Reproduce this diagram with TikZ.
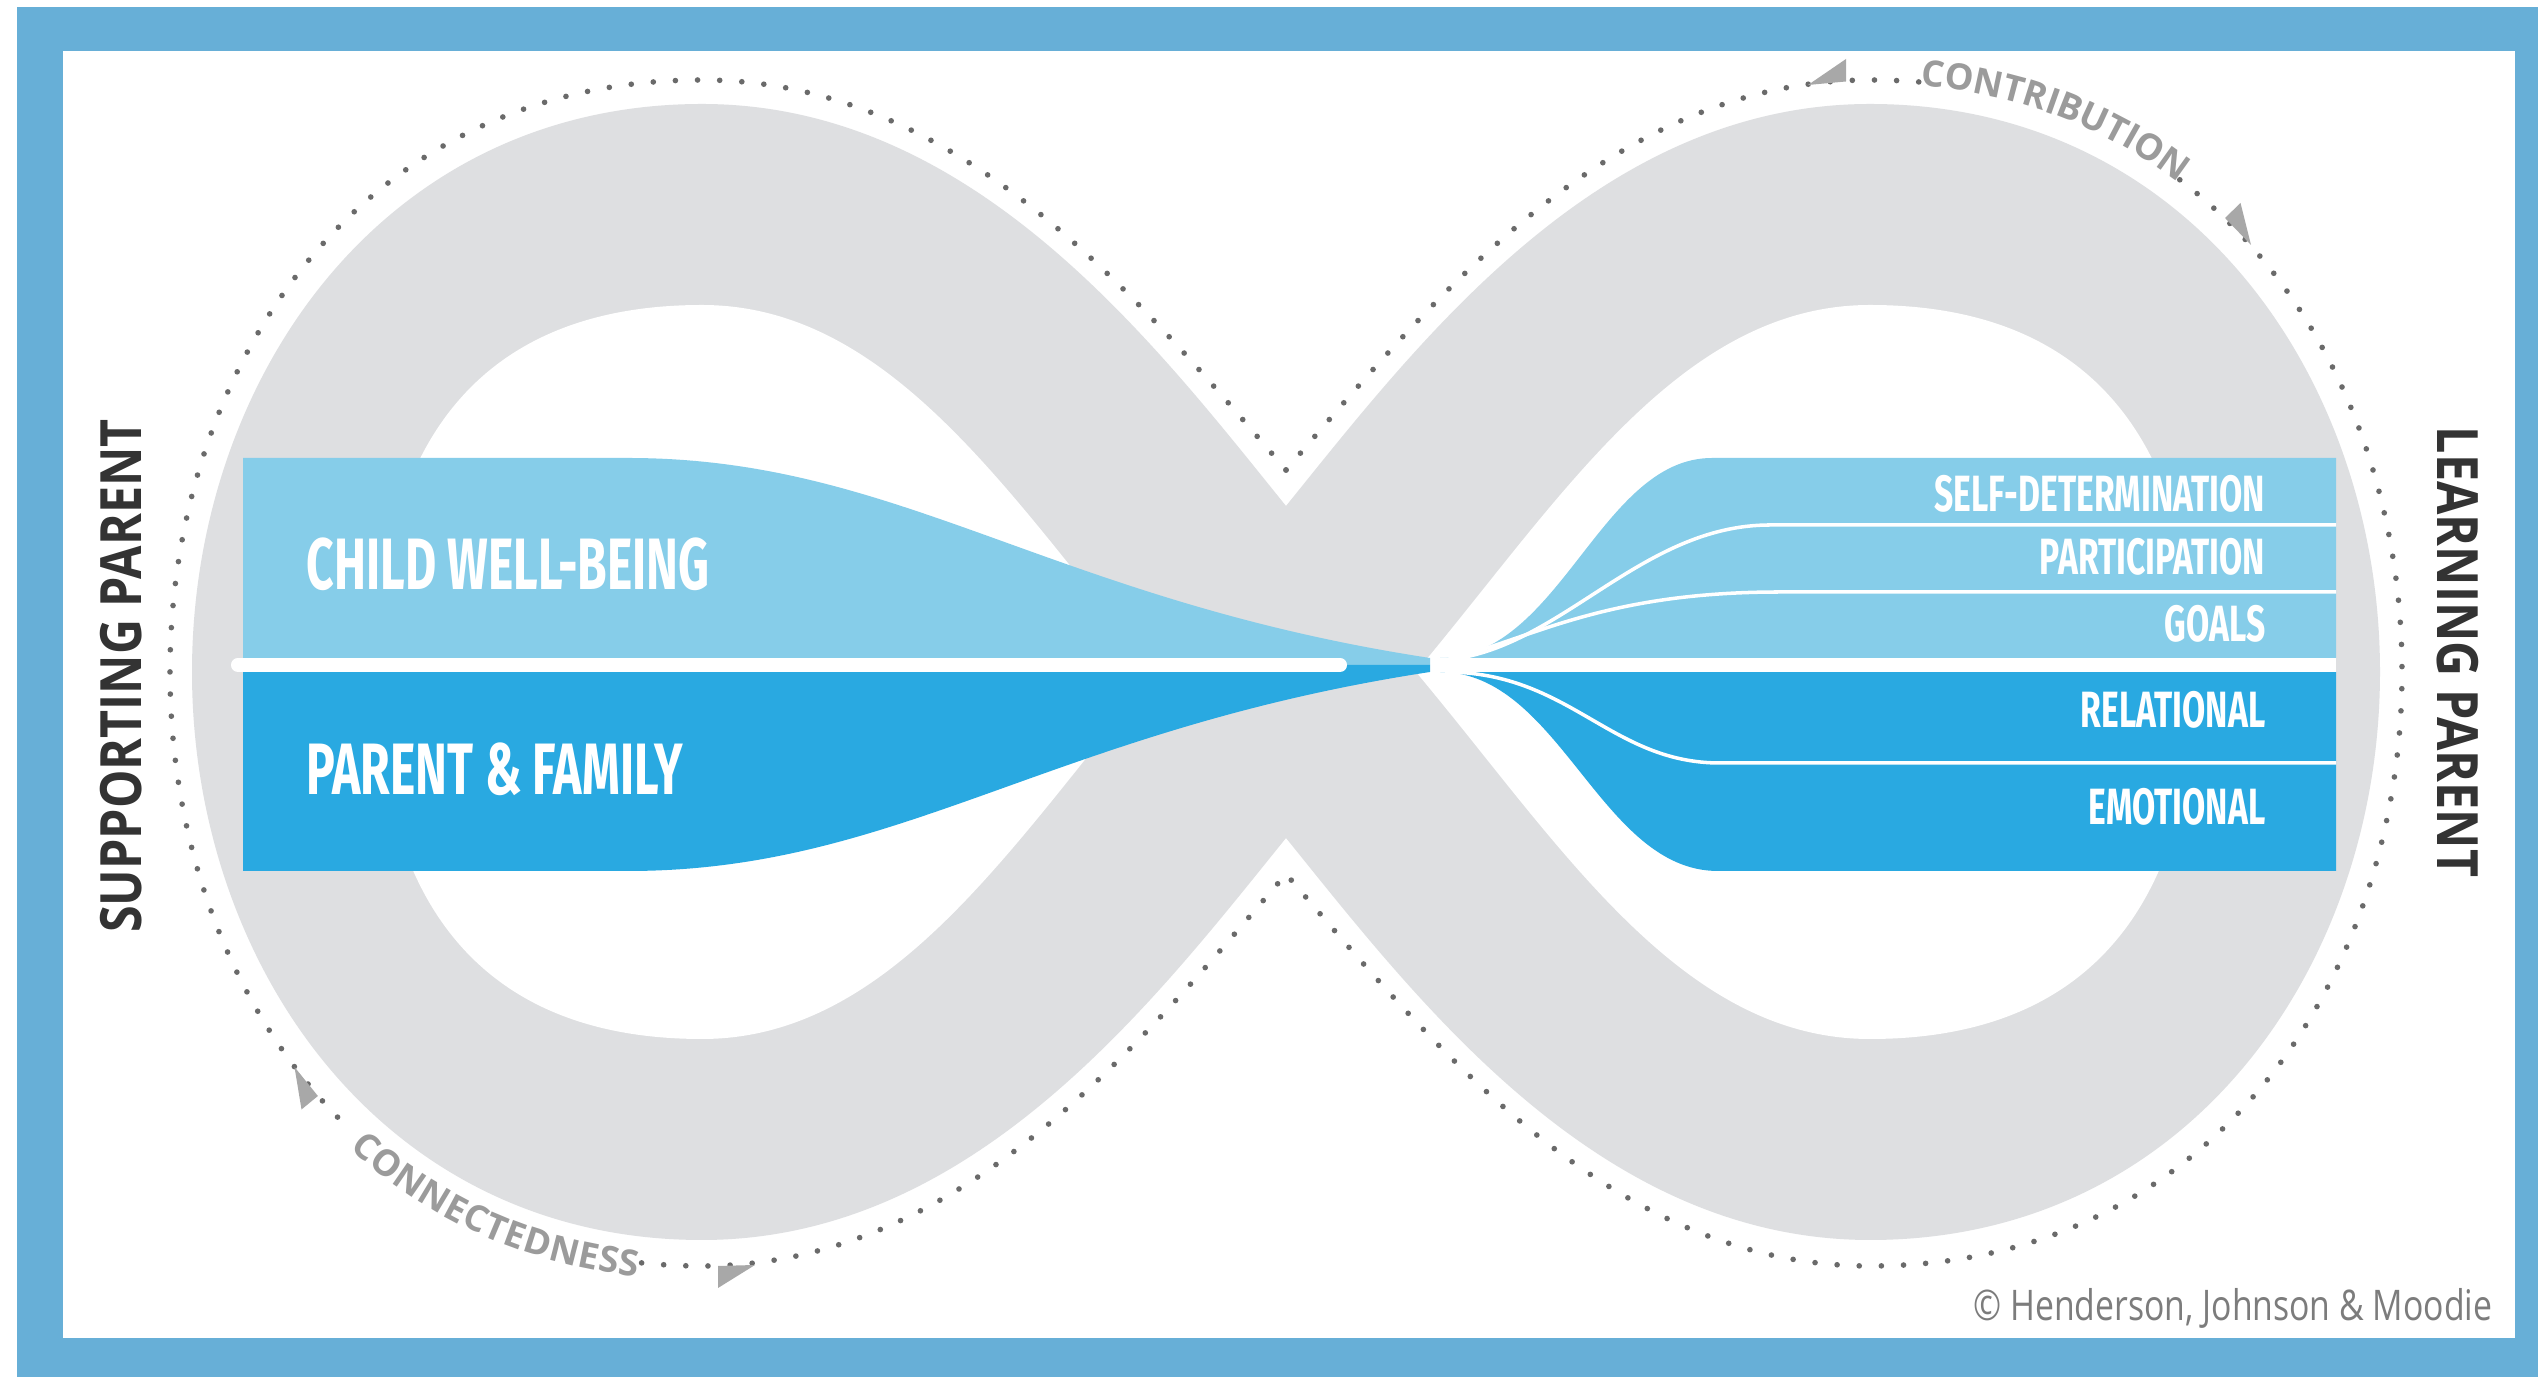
\documentclass[tikz,border=0pt]{standalone}
\usepackage{fontspec}
\usepackage{xcolor}
\usetikzlibrary{decorations.text}
\newfontfamily\labelfont[FakeStretch=0.66]{Fira Sans}
\newfontfamily\headfont{Open Sans}
\newfontfamily\sidefont[FakeStretch=0.85]{Open Sans}
\newfontfamily\creditfont[FakeStretch=0.8]{Open Sans}

\definecolor{framebg}{HTML}{67AFD7}
\definecolor{bandgray}{HTML}{DEDFE1}
\definecolor{lightbar}{HTML}{86CDE9}
\definecolor{darkbar}{HTML}{29A9E1}
\definecolor{dotgray}{HTML}{6A6A6A}
\definecolor{tipgray}{HTML}{A8A8A8}
\definecolor{arcgray}{HTML}{9B9B9B}
\definecolor{sidegray}{HTML}{333333}
\definecolor{creditgray}{HTML}{7C7C7C}

\tikzset{
  dotline/.style={dotgray, line width=1.6pt, line cap=round, dash pattern=on 0pt off 6.3pt},
  divider/.style={white, line width=4pt},
  subline/.style={white, line width=1pt},
  tipfill/.style={fill=tipgray},
  biglabel/.style={white, inner sep=0pt, font=\labelfont\bfseries\fontsize{20.7}{24}\selectfont},
  smalllabel/.style={white, inner sep=0pt, font=\labelfont\bfseries\fontsize{14.5}{17}\selectfont},
  sidelabel/.style={sidegray, inner sep=0pt, font=\sidefont\bfseries\fontsize{16.2}{18}\selectfont},
  creditlabel/.style={creditgray, inner sep=0pt, font=\creditfont\fontsize{12}{14}\selectfont}
}

\begin{document}
\begin{tikzpicture}[x=0.01cm, y=-0.01cm]
  \useasboundingbox (0,0) rectangle (2538,1377);

  % Frame
  \fill[white] (0,0) rectangle (2538,1377);
  \fill[framebg] (17,7) rectangle (2538,1377);
  \fill[white] (63,51) rectangle (2515,1338);

  % Crossing points
  \coordinate (N1) at (1286,506);
  \coordinate (N2) at (1286,838);
  \coordinate (V1) at (1286,470);
  \coordinate (V2) at (1286,874);

  % Infinity band
  \fill[bandgray] (N1) .. controls (1152,340) and (972,104) .. (702,104)
    .. controls (382,104) and (192,380) .. (192,672)
    .. controls (192,964) and (382,1240) .. (702,1240)
    .. controls (972,1240) and (1152,1004) .. (N2)
    .. controls (1420,1004) and (1600,1240) .. (1870,1240)
    .. controls (2190,1240) and (2380,964) .. (2380,672)
    .. controls (2380,380) and (2190,104) .. (1870,104)
    .. controls (1600,104) and (1420,340) .. (N1) -- cycle;
  \fill[white] (1156,672) .. controls (1012,500) and (892,305) .. (702,305)
    .. controls (452,305) and (377,480) .. (377,672)
    .. controls (377,864) and (452,1039) .. (702,1039)
    .. controls (892,1039) and (1012,844) .. (1156,672) -- cycle;
  \fill[white] (1416,672) .. controls (1560,500) and (1680,305) .. (1870,305)
    .. controls (2120,305) and (2195,480) .. (2195,672)
    .. controls (2195,864) and (2120,1039) .. (1870,1039)
    .. controls (1680,1039) and (1560,844) .. (1416,672) -- cycle;

  % Dotted outline
  \draw[dotline] (V1) .. controls (1140,300) and (962,80) .. (702,80)
    .. controls (357,80) and (170,370) .. (170,672)
    .. controls (170,844.1) and (230.8,1013.1) .. (346.9,1126.5);
  \draw[dotline] (641.6,1262.9) .. controls (661.2,1264.9) and (681.3,1266) .. (702,1266)
    .. controls (962,1266) and (1140,1044) .. (V2);
  \draw[dotline] (V1) .. controls (1432,300) and (1610,80) .. (1870,80)
    .. controls (1887.25,80) and (1904,80.7) .. (1920.5,82.1);
  \draw[dotline] (2179.8,179.8) .. controls (2325.4,290.3) and (2402,478.7) .. (2402,672)
    .. controls (2402,974) and (2215,1266) .. (1870,1266)
    .. controls (1610,1266) and (1432,1044) .. (V2);

  % Arrow tips
  \fill[tipfill] (1808,85) -- (1846,81.5) -- (1846,59) -- cycle;
  \fill[tipfill] (2251,245) -- (2225,218) -- (2240.5,203) -- cycle;
  \fill[tipfill] (294.5,1067) -- (317.9,1096) -- (301.5,1109.5) -- cycle;
  \fill[tipfill] (755,1265) -- (718,1266) -- (718,1288) -- cycle;

  % Arc labels
  \path[decorate, decoration={text along path, text color=arcgray,
      text={|\headfont\bfseries\fontsize{10.3}{12}\selectfont|CONTRIBUTION},
      text align={left indent=14.5pt}, raise=-1pt}]
    (1870,80) .. controls (2215,80) and (2402,370) .. (2402,672)
    .. controls (2402,974) and (2215,1266) .. (1870,1266);
  \path[decorate, decoration={text along path, text color=arcgray,
      text={|\headfont\bfseries\fontsize{10.3}{12}\selectfont|CONNECTEDNESS},
      text align={left indent=147pt}, raise=-4pt}]
    (170,672) .. controls (170,974) and (357,1266) .. (702,1266)
    .. controls (962,1266) and (1140,1044) .. (V2);

  % Left bars
  \fill[lightbar] (243,458) -- (628,458) .. controls (900,458) and (1050,600) .. (1430,658)
    -- (1430,665) -- (243,665) -- cycle;
  \fill[darkbar] (243,871) -- (628,871) .. controls (900,871) and (1050,730) .. (1430,672)
    -- (1430,665) -- (243,665) -- cycle;
  \draw[divider, line cap=round] (238,665) -- (1340,665);

  % Right bars
  \fill[lightbar] (1440,658) .. controls (1560,658) and (1600,458) .. (1712,458)
    -- (2336,458) -- (2336,658) -- cycle;
  \fill[darkbar] (1440,672) .. controls (1560,672) and (1600,871) .. (1718,871)
    -- (2336,871) -- (2336,672) -- cycle;
  \draw[divider] (1440,665) -- (2336,665);
  \draw[subline] (1445,660) .. controls (1560,650) and (1640,525) .. (1770,525) -- (2336,525);
  \draw[subline] (1445,660) .. controls (1530,640) and (1600,592) .. (1780,592) -- (2336,592);
  \draw[subline] (1445,672) .. controls (1570,672) and (1610,763) .. (1720,763) -- (2336,763);

  % Bar labels
  \node[biglabel, anchor=base west] (child) at (306,590) {CHILD WELL-BEING};
  \node[biglabel, anchor=base west] (family) at (306,795) {PARENT \& FAMILY};
  \node[smalllabel, anchor=base east] (selfdet) at (2266,512) {SELF-DETERMINATION};
  \node[smalllabel, anchor=base east] (partic) at (2266,575) {PARTICIPATION};
  \node[smalllabel, anchor=base east] (goals) at (2266,642) {GOALS};
  \node[smalllabel, anchor=base east] (relat) at (2266,728) {RELATIONAL};
  \node[smalllabel, anchor=base east] (emot) at (2266,825) {EMOTIONAL};

  % Side labels
  \node[sidelabel, rotate=90] (supporting) at (121,676) {SUPPORTING PARENT};
  \node[sidelabel, rotate=-90] (learning) at (2458,652) {LEARNING PARENT};

  % Credit
  \node[creditlabel, anchor=base east] (credit) at (2493,1321) {© Henderson, Johnson \& Moodie};
\end{tikzpicture}
\end{document}
